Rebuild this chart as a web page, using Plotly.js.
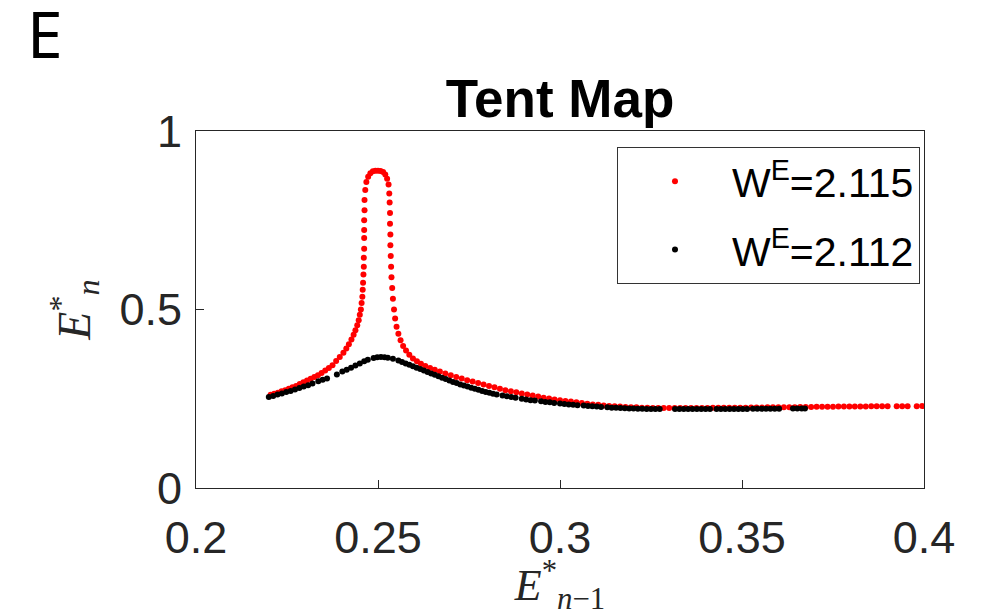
<!DOCTYPE html>
<html>
<head>
<meta charset="utf-8">
<script src="https://cdn.plot.ly/plotly-3.0.1.min.js"></script>
<style>
  html, body { margin: 0; padding: 0; background: #fff; }
  #chart { width: 992px; height: 616px; }
</style>
</head>
<body>
<div id="chart"></div>
<script>
// Return map of the tent map: successive values E*_{n-1} -> E*_n for two coupling strengths.

// W^E = 2.115 (red)
const xRed = [
  0.2205, 0.2215, 0.2225, 0.2235, 0.2245, 0.2255, 0.2265, 0.2275, 0.2285, 0.2295,
  0.2305, 0.2315, 0.2325, 0.2335, 0.2345, 0.2355, 0.2365, 0.2375, 0.2385, 0.2395,
  0.2405, 0.2413, 0.2420, 0.2427, 0.2433, 0.2438, 0.2443, 0.2447, 0.2450, 0.2453,
  0.2455, 0.2457, 0.2458, 0.2459, 0.2460, 0.2461, 0.2461, 0.2462, 0.2462, 0.2462,
  0.2462, 0.2463, 0.2463, 0.2465, 0.2468, 0.2473, 0.2479, 0.2486, 0.2493, 0.2500,
  0.2507, 0.2514, 0.2520, 0.2525, 0.2529, 0.2531, 0.2532, 0.2533, 0.2533, 0.2534,
  0.2534, 0.2535, 0.2536, 0.2537, 0.2539, 0.2541, 0.2544, 0.2547, 0.2551, 0.2556,
  0.2562, 0.2569, 0.2577, 0.2586, 0.2596, 0.2607, 0.2618, 0.2630, 0.2643, 0.2656,
  0.2670, 0.2685, 0.2700, 0.2715, 0.2730, 0.2745, 0.2760, 0.2775, 0.2790, 0.2805,
  0.2820, 0.2835, 0.2850, 0.2865, 0.2880, 0.2895, 0.2910, 0.2925, 0.2940, 0.2955,
  0.2970, 0.2985, 0.3000, 0.3015, 0.3030, 0.3045, 0.3060, 0.3075, 0.3090, 0.3105,
  0.3120, 0.3135, 0.3150, 0.3165, 0.3180, 0.3195, 0.3210, 0.3225, 0.3240, 0.3255,
  0.3270, 0.3285, 0.3300, 0.3315, 0.3330, 0.3345, 0.3360, 0.3375, 0.3390, 0.3405,
  0.3420, 0.3435, 0.3450, 0.3465, 0.3480, 0.3495, 0.3510, 0.3525, 0.3540, 0.3555,
  0.3570, 0.3585, 0.3600, 0.3615, 0.3630, 0.3645, 0.3660, 0.3675, 0.3690, 0.3705,
  0.3720, 0.3735, 0.3750, 0.3765, 0.3780, 0.3795, 0.3810, 0.3825, 0.3840, 0.3855,
  0.3870, 0.3885, 0.3900, 0.3925, 0.3940, 0.3955, 0.3980, 0.3995
];
const yRed = [
  0.261, 0.264, 0.267, 0.271, 0.274, 0.278, 0.282, 0.286, 0.291, 0.296,
  0.301, 0.306, 0.311, 0.316, 0.322, 0.329, 0.336, 0.344, 0.356, 0.367,
  0.379, 0.391, 0.403, 0.416, 0.429, 0.442, 0.456, 0.470, 0.485, 0.500,
  0.518, 0.536, 0.555, 0.575, 0.598, 0.620, 0.645, 0.670, 0.700, 0.723,
  0.750, 0.778, 0.807, 0.835, 0.857, 0.872, 0.882, 0.887, 0.889, 0.889,
  0.888, 0.885, 0.878, 0.866, 0.850, 0.825, 0.800, 0.770, 0.740, 0.710,
  0.680, 0.650, 0.620, 0.590, 0.560, 0.530, 0.500, 0.475, 0.452, 0.432,
  0.414, 0.398, 0.385, 0.373, 0.363, 0.355, 0.348, 0.342, 0.336, 0.331,
  0.326, 0.321, 0.316, 0.311, 0.307, 0.302, 0.298, 0.294, 0.290, 0.286,
  0.282, 0.278, 0.274, 0.271, 0.268, 0.265, 0.262, 0.259, 0.256, 0.253,
  0.251, 0.248, 0.246, 0.244, 0.242, 0.240, 0.238, 0.236, 0.234, 0.233,
  0.231, 0.230, 0.229, 0.228, 0.227, 0.226, 0.226, 0.225, 0.225, 0.224,
  0.224, 0.224, 0.224, 0.224, 0.224, 0.224, 0.224, 0.224, 0.224, 0.224,
  0.2245, 0.2245, 0.2245, 0.225, 0.225, 0.225, 0.225, 0.2255, 0.2255, 0.2255,
  0.226, 0.226, 0.226, 0.2265, 0.2265, 0.2265, 0.227, 0.227, 0.227, 0.2273,
  0.2275, 0.2275, 0.2278, 0.228, 0.228, 0.228, 0.2283, 0.2285, 0.2285, 0.2288,
  0.229, 0.229, 0.229, 0.229, 0.229, 0.2293, 0.2293, 0.2295
];

// W^E = 2.112 (black)
const xBlack = [
  0.2200, 0.2212, 0.2224, 0.2236, 0.2248, 0.2260, 0.2272, 0.2284, 0.2296, 0.2308,
  0.2320, 0.2336, 0.2348, 0.2360, 0.2387, 0.2402, 0.2414, 0.2426, 0.2438, 0.2450,
  0.2462, 0.2472, 0.2488, 0.2498, 0.2508, 0.2518, 0.2527, 0.2541, 0.2556, 0.2566,
  0.2576, 0.2586, 0.2596, 0.2606, 0.2616, 0.2626, 0.2636, 0.2646, 0.2656, 0.2666,
  0.2676, 0.2686, 0.2696, 0.2706, 0.2716, 0.2726, 0.2736, 0.2746, 0.2756, 0.2766,
  0.2776, 0.2786, 0.2796, 0.2806, 0.2816, 0.2826, 0.2842, 0.2854, 0.2866, 0.2878,
  0.2895, 0.2907, 0.2919, 0.2931, 0.2948, 0.2960, 0.2972, 0.2984, 0.3000, 0.3012,
  0.3024, 0.3036, 0.3048, 0.3065, 0.3077, 0.3089, 0.3101, 0.3113, 0.3130, 0.3142,
  0.3154, 0.3166, 0.3178, 0.3190, 0.3202, 0.3214, 0.3226, 0.3238, 0.3250, 0.3262,
  0.3274, 0.3316, 0.3328, 0.3340, 0.3352, 0.3364, 0.3376, 0.3388, 0.3400, 0.3412,
  0.3430, 0.3442, 0.3454, 0.3466, 0.3478, 0.3490, 0.3502, 0.3514, 0.3530, 0.3542,
  0.3554, 0.3566, 0.3578, 0.3590, 0.3602, 0.3640, 0.3652, 0.3664, 0.3673
];
const yBlack = [
  0.255, 0.258, 0.262, 0.265, 0.269, 0.272, 0.276, 0.280, 0.284, 0.288,
  0.293, 0.299, 0.303, 0.307, 0.318, 0.326, 0.331, 0.337, 0.343, 0.349,
  0.355, 0.359, 0.364, 0.366, 0.367, 0.366, 0.365, 0.362, 0.357, 0.353,
  0.349, 0.345, 0.341, 0.337, 0.333, 0.329, 0.325, 0.321, 0.317, 0.313,
  0.309, 0.305, 0.301, 0.297, 0.294, 0.290, 0.287, 0.284, 0.281, 0.278,
  0.275, 0.272, 0.269, 0.267, 0.264, 0.262, 0.259, 0.257, 0.255, 0.253,
  0.250, 0.248, 0.246, 0.245, 0.243, 0.241, 0.240, 0.238, 0.237, 0.235,
  0.234, 0.233, 0.232, 0.231, 0.230, 0.229, 0.228, 0.227, 0.226, 0.225,
  0.2245, 0.224, 0.2235, 0.223, 0.2225, 0.222, 0.2218, 0.2215, 0.2213, 0.2212,
  0.221, 0.221, 0.221, 0.221, 0.221, 0.221, 0.221, 0.221, 0.221, 0.221,
  0.221, 0.221, 0.2212, 0.2212, 0.2212, 0.2215, 0.2215, 0.2215, 0.2218, 0.222,
  0.222, 0.222, 0.2222, 0.2222, 0.2222, 0.2225, 0.2225, 0.2225, 0.2225
];

const seriesNames = ['W<sup>E</sup>=2.115', 'W<sup>E</sup>=2.112'];
const xTicks = [0.2, 0.25, 0.3, 0.35, 0.4];
const xTickText = ['0.2', '0.25', '0.3', '0.35', '0.4'];
const yTicks = [0, 0.5, 1];
const yTickText = ['0', '0.5', '1'];

const sans = 'Liberation Sans, Arial, sans-serif';
const serif = 'Liberation Serif, Times New Roman, serif';
const axisColor = '#262626';

const traces = [
  {
    x: xRed, y: yRed, type: 'scatter', mode: 'markers', name: seriesNames[0],
    legendgroup: 'a',
    marker: { color: '#ff0000', size: 6 }
  },
  {
    x: xBlack, y: yBlack, type: 'scatter', mode: 'markers', name: seriesNames[1],
    legendgroup: 'b',
    marker: { color: '#000000', size: 6 }
  }
];

const axisCommon = {
  showgrid: false, zeroline: false,
  showline: true, mirror: true, linecolor: axisColor, linewidth: 1,
  ticks: 'inside', ticklen: 8, tickcolor: axisColor, tickwidth: 1,
  tickfont: { family: sans, size: 45, color: axisColor }
};

const layout = {
  width: 992, height: 616,
  margin: { l: 196, r: 68, t: 131, b: 128 },
  paper_bgcolor: '#ffffff', plot_bgcolor: '#ffffff',
  showlegend: true,
  title: {
    text: '<b>Tent Map</b>',
    font: { family: sans, size: 53, color: '#000000' },
    x: 0.5645, xanchor: 'center', xref: 'container',
    y: 0.84, yanchor: 'middle', yref: 'container'
  },
  xaxis: Object.assign({}, axisCommon, {
    range: [0.2, 0.4], tickvals: xTicks, ticktext: xTickText,
    ticklabelstandoff: 10,
    title: {
      text: '<i>E</i><sup>*</sup><sub><i>n</i>−1</sub>',
      font: { family: serif, size: 44, color: axisColor },
      standoff: 10
    }
  }),
  yaxis: Object.assign({}, axisCommon, {
    range: [0, 1], tickvals: yTicks, ticktext: yTickText,
    ticklabelstandoff: 4,
    title: {
      text: '<i>E</i><sup>*</sup><sub><i>n</i></sub>',
      font: { family: serif, size: 46, color: axisColor },
      standoff: 14
    }
  }),
  legend: {
    x: 0.9945, xanchor: 'right', y: 0.955, yanchor: 'top',
    bgcolor: '#ffffff', bordercolor: '#333333', borderwidth: 1,
    font: { family: sans, size: 41, color: '#000000' },
    itemwidth: 104,
    traceorder: 'grouped', tracegroupgap: 12
  },
  annotations: [
    {
      text: 'E', xref: 'paper', yref: 'paper', x: -0.207, y: 1.272,
      xanchor: 'center', yanchor: 'middle', showarrow: false,
      font: { family: 'Liberation Sans Narrow, Noto Sans, sans-serif', size: 64, color: '#000000' }
    }
  ]
};

Plotly.newPlot('chart', traces, layout, { displayModeBar: false, staticPlot: true });
</script>
</body>
</html>
